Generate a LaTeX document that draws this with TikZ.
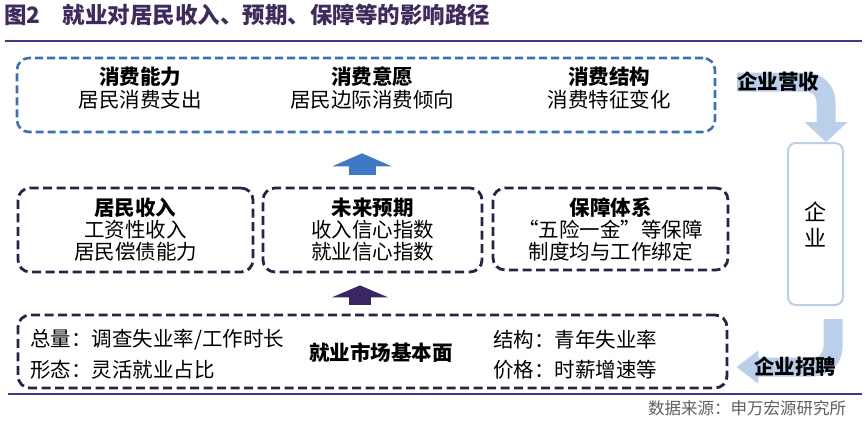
\documentclass[tikz,border=0pt]{standalone}
\usepackage{fontspec}
\setmainfont{Noto Sans CJK SC}
\usepackage{tikz}
\usetikzlibrary{arrows.meta,backgrounds}

\definecolor{titlepurple}{RGB}{62,42,92}
\definecolor{rulecol}{RGB}{58,55,140}
\definecolor{boxblue}{RGB}{60,112,182}
\definecolor{boxnavy}{RGB}{36,36,72}
\definecolor{arrowblue}{RGB}{63,120,195}
\definecolor{arrowdark}{RGB}{58,38,98}
\definecolor{bandblue}{RGB}{186,207,234}
\definecolor{srcgray}{RGB}{95,95,95}

\tikzset{
  txt/.style={font=\fontsize{20.5}{23}\selectfont, align=center, inner sep=0pt},
  btxt/.style={txt, font=\fontsize{20.5}{23}\selectfont\bfseries},
  topbox/.style={draw=boxblue, line width=2.6pt, dash pattern=on 8pt off 4pt, rounded corners=12pt},
  midbox/.style={draw=boxnavy, line width=2.8pt, dash pattern=on 9pt off 4.5pt, rounded corners=12pt,
    align=center, font=\fontsize{20.5}{22}\selectfont},
  band/.style={draw=bandblue, line width=19pt, rounded corners=20pt},
}

\begin{document}
\begin{tikzpicture}[x=1pt,y=-1pt]
  \useasboundingbox (0,0) rectangle (865,421);

  \node[anchor=west, inner sep=0pt, text=titlepurple, font=\fontsize{22.5}{25}\selectfont\bfseries] (title) at (4,15)
    {图2\quad 就业对居民收入、预期、保障等的影响路径};
  \draw[rulecol, line width=2pt] (5,41) -- (862,41);
  \draw[rulecol, line width=2pt] (8,394) -- (862,394);

  \node[topbox, minimum width=698pt, minimum height=74pt] (xiaofei) at (366,95) {};
  \node[txt] (nengli) at (140,88) {\textbf{消费能力}\\居民消费支出};
  \node[txt] (yiyuan) at (372,88) {\textbf{消费意愿}\\居民边际消费倾向};
  \node[txt] (jiegou) at (609,88) {\textbf{消费结构}\\消费特征变化};

  \node[midbox, minimum width=235pt, minimum height=84pt] (shouru) at (135.5,230)
    {\textbf{居民收入}\\工资性收入\\居民偿债能力};
  \node[midbox, minimum width=219pt, minimum height=84pt] (yuqi) at (372.5,230)
    {\textbf{未来预期}\\收入信心指数\\就业信心指数};
  \node[midbox, minimum width=235pt, minimum height=82pt] (baozhang) at (610.5,229)
    {\textbf{保障体系}\\“五险一金”等保障\\制度均与工作绑定};

  \node[midbox, minimum width=709pt, minimum height=73pt] (shichang) at (372.5,351.5) {};
  \node[txt, anchor=west] (zongliang) at (30,340) {总量：调查失业率/工作时长};
  \node[txt, anchor=west] (xingtai) at (30,370) {形态：灵活就业占比};
  \node[btxt] (jiben) at (381,353) {就业市场基本面};
  \node[txt, anchor=west] (jiegoub) at (493,340) {结构：青年失业率};
  \node[txt, anchor=west] (jiage) at (493,370) {价格：时薪增速等};

  \draw[arrowblue, line width=27pt, -{Triangle[width=59pt,length=13pt]}]
    ([xshift=-10.5pt,yshift=12pt]yuqi.north) -- ([xshift=-4pt,yshift=-20pt]xiaofei.south);
  \draw[arrowdark, line width=22pt, -{Triangle[width=56pt,length=12pt]}]
    ([xshift=-12.5pt,yshift=9pt]shichang.north) -- ([xshift=-12.5pt,yshift=-12pt]yuqi.south);

  \node[draw=bandblue, line width=2pt, rounded corners=8pt, minimum width=55pt, minimum height=162pt,
    align=center, font=\fontsize{22}{26}\selectfont] (qiye) at (815.5,224) {企\\业};
  \node[btxt] (yingshou) at (778,82) {企业营收};
  \node[btxt] (zhaopin) at (795,367) {企业招聘};
  \begin{scope}[on background layer]
    \draw[band, -{Triangle[width=42pt,length=20pt]}]
      (yingshou.west) -| ([xshift=10.5pt]qiye.north);
    \draw[band, -{Triangle[width=32pt,length=22pt]}]
      ([xshift=17.5pt,yshift=-13pt]qiye.south) |- ([xshift=8pt,yshift=-15.5pt]shichang.east);
  \end{scope}

  \node[anchor=west, inner sep=0pt, text=srcgray, font=\fontsize{16.5}{18}\selectfont] (source) at (648,408)
    {数据来源：申万宏源研究所};
\end{tikzpicture}
\end{document}
